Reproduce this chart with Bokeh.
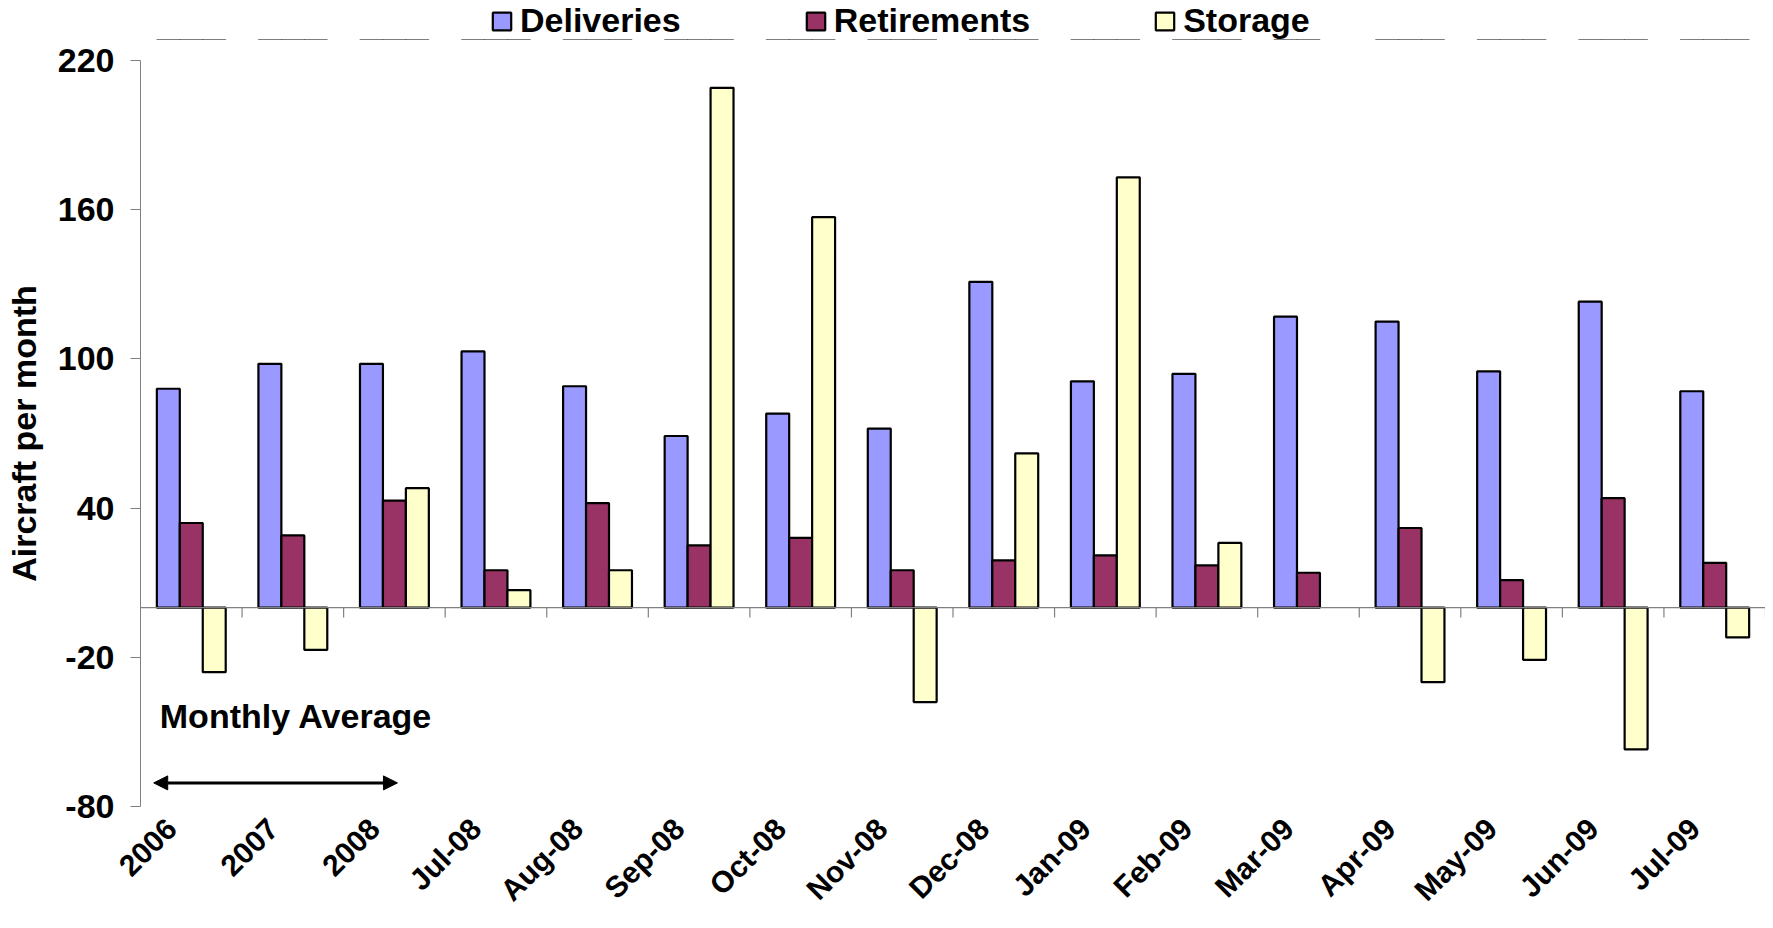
import math
from bokeh.plotting import figure
from bokeh.layouts import column
from bokeh.models import (Range1d, FixedTicker, Span, Legend, LegendItem,
                          Arrow, NormalHead, Label, ColumnDataSource, LinearAxis)
from bokeh.transform import dodge
from bokeh.embed import file_html
from bokeh.resources import INLINE

nan = float("nan")

categories = ["2006", "2007", "2008", "Jul-08", "Aug-08", "Sep-08", "Oct-08", "Nov-08",
              "Dec-08", "Jan-09", "Feb-09", "Mar-09", "Apr-09", "May-09", "Jun-09", "Jul-09"]
deliveries = [88, 98, 98, 103, 89, 69, 78, 72, 131, 91, 94, 117, 115, 95, 123, 87]
retirements = [34, 29, 43, 15, 42, 25, 28, 15, 19, 21, 17, 14, 32, 11, 44, 18]
storage = [-26, -17, 48, 7, 15, 209, 157, -38, 62, 173, 26, nan, -30, -21, -57, -12]
y_ticks = [-80, -20, 40, 100, 160, 220]

series_names = ["Deliveries", "Retirements", "Storage"]
series_colors = ["#9999FF", "#993366", "#FFFFCC"]

FONT = "Liberation Sans"
FS = "34px"
W = 1765

n = len(categories)
centers = [i + 0.5 for i in range(n)]  # category slots on a numeric axis
src = ColumnDataSource(dict(cats=categories, xc=centers, Deliveries=deliveries,
                            Retirements=retirements, Storage=storage))

bw = 0.226
offsets = [-bw, 0, bw]

# ---------------- main chart ----------------
label_shift = 0.197  # category labels sit a little left of the category centre
p = figure(x_range=Range1d(0, n), y_range=Range1d(y_ticks[0], y_ticks[-1]),
           x_axis_location=None,
           width=W, height=888, output_backend="svg", toolbar_location=None,
           min_border_left=140, min_border_right=0, min_border_top=20, min_border_bottom=122)
p.extra_x_ranges = {"labels": Range1d(label_shift, n + label_shift)}
p.outline_line_color = None
p.xgrid.grid_line_color = None
p.ygrid.grid_line_color = None
p.background_fill_color = "white"

# zero line with category-boundary ticks
p.add_layout(Span(location=0, dimension="width", line_color="#808080", line_width=1.2))
p.segment(x0=dodge("xc", 0.5), y0=0, x1=dodge("xc", 0.5), y1=-4, source=src,
          line_color="#808080", line_width=1.2)

for name, col, off in zip(series_names, series_colors, offsets):
    p.vbar(x=dodge("xc", off), top=name, bottom=0, width=bw,
           source=src, fill_color=col, line_color="black", line_width=2.2)

# y axis
yax = p.yaxis[0]
yax.ticker = FixedTicker(ticks=y_ticks)
yax.major_label_overrides = {t: str(t) for t in y_ticks}
yax.axis_line_color = "#808080"
yax.major_tick_line_color = "#808080"
yax.major_tick_out = 10
yax.major_tick_in = 0
yax.minor_tick_line_color = None
yax.major_label_text_font = FONT
yax.major_label_text_font_style = "bold"
yax.major_label_text_font_size = FS
yax.major_label_text_color = "black"
yax.major_label_standoff = 16
yax.axis_label = "Aircraft per month"
yax.axis_label_text_font = FONT
yax.axis_label_text_font_style = "bold"
yax.axis_label_text_font_size = FS
yax.axis_label_text_color = "black"
yax.axis_label_standoff = 12

# category labels axis
xax = LinearAxis(x_range_name="labels",
                 ticker=FixedTicker(ticks=centers),
                 major_label_overrides={pos: c for pos, c in zip(centers, categories)},
                 axis_line_color=None, major_tick_line_color=None, minor_tick_line_color=None,
                 major_tick_out=0, major_tick_in=0,
                 major_label_orientation=math.pi / 4, major_label_standoff=17,
                 major_label_text_font=FONT, major_label_text_font_style="bold",
                 major_label_text_font_size="30px", major_label_text_color="black")
p.add_layout(xax, "below")

# Monthly average annotation
p.add_layout(Label(x=0.19, y=-43.5, text="Monthly Average", text_baseline="middle",
                   text_font=FONT, text_font_style="bold", text_font_size=FS,
                   text_color="black"))
p.add_layout(Arrow(x_start=0.13, y_start=-70.5, x_end=2.53, y_end=-70.5,
                   line_color="black", line_width=3,
                   start=NormalHead(size=14, fill_color="black", line_color="black"),
                   end=NormalHead(size=14, fill_color="black", line_color="black")))

# ---------------- legend strip (same series, view window placed beyond their extent) ----------------
lg = figure(width=W, height=40, x_range=Range1d(0, n), y_range=Range1d(1000, 1001),
            x_axis_location=None, y_axis_location=None,
            output_backend="svg", toolbar_location=None,
            min_border_left=0, min_border_right=0, min_border_top=0, min_border_bottom=0)
lg.outline_line_color = None
lg.xgrid.grid_line_color = None
lg.ygrid.grid_line_color = None
leg_renderers = [lg.vbar(x=dodge("xc", off), top=name, bottom=0, width=bw, source=src,
                         fill_color=col, line_color="black", line_width=2.2)
                 for name, col, off in zip(series_names, series_colors, offsets)]
legend = Legend(items=[LegendItem(label=nm, renderers=[r]) for nm, r in zip(series_names, leg_renderers)],
                orientation="horizontal", location=(350, 0),
                glyph_width=23, glyph_height=22, label_standoff=7, spacing=123,
                padding=0, margin=0, border_line_color=None, background_fill_alpha=0,
                label_text_font=FONT, label_text_font_style="bold", label_text_font_size=FS,
                label_text_color="black", label_height=22)
lg.add_layout(legend, "center")

page = column(lg, p, spacing=0)
open("out.html", "w").write(file_html(page, INLINE))
